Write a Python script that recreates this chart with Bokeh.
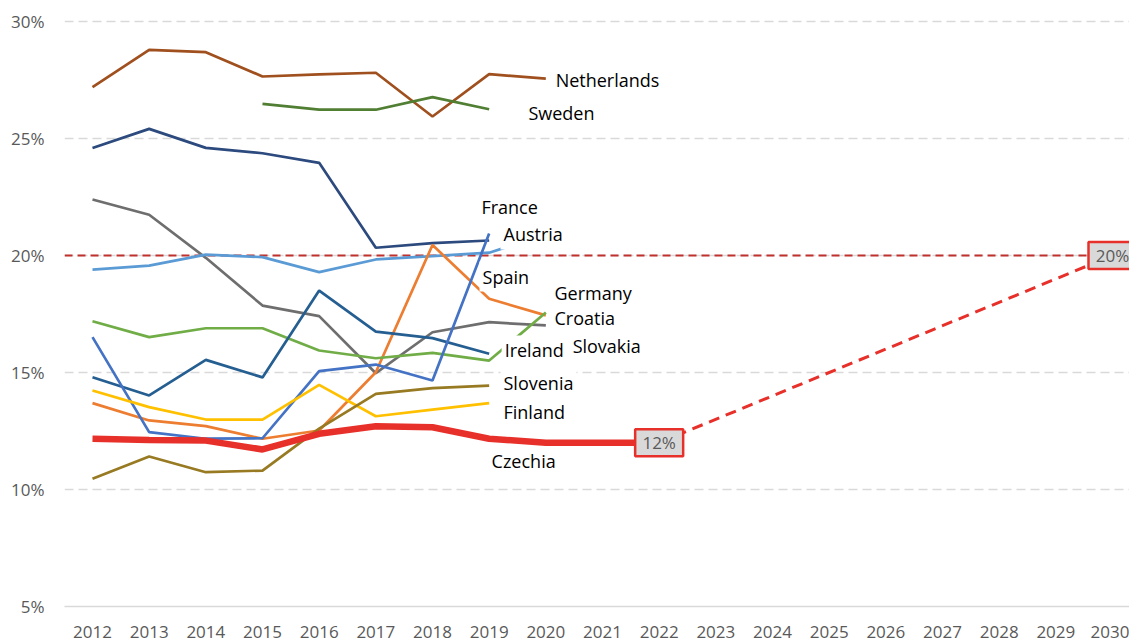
from bokeh.plotting import figure
from bokeh.models import FixedTicker, CustomJSTickFormatter, Span, ColumnDataSource
from bokeh.core.properties import value
from bokeh.embed import file_html
from bokeh.resources import INLINE

years = list(range(2012, 2021))
netherlands = [27.19, 28.79, 28.69, 27.65, 27.74, 27.81, 25.94, 27.75, 27.56]
years_sweden = list(range(2015, 2020))
sweden = [26.48, 26.23, 26.23, 26.77, 26.25]
years_2019 = list(range(2012, 2020))
france = [24.59, 25.41, 24.60, 24.37, 23.96, 20.33, 20.53, 20.64]
croatia = [22.39, 21.74, 19.90, 17.86, 17.41, 14.97, 16.72, 17.15, 17.01]
spain = [19.40, 19.57, 20.04, 19.93, 19.29, 19.83, 19.97, 20.12, 20.90]
austria = [16.51, 12.45, 12.17, 12.19, 15.06, 15.34, 14.66, 20.94]
germany = [13.69, 12.95, 12.71, 12.17, 12.52, 15.01, 20.45, 18.15, 17.44]
slovakia = [17.19, 16.51, 16.89, 16.89, 15.94, 15.61, 15.84, 15.51, 17.56]
ireland = [14.80, 14.02, 15.54, 14.79, 18.50, 16.75, 16.47, 15.80]
finland = [14.23, 13.52, 12.99, 12.99, 14.47, 13.13, 13.41, 13.69]
slovenia = [10.46, 11.41, 10.74, 10.81, 12.60, 14.09, 14.33, 14.44]
years_cz = list(range(2012, 2023))
czechia = [12.17, 12.12, 12.09, 11.71, 12.38, 12.70, 12.66, 12.17, 12.0, 12.0, 12.0]
target_years = [2022, 2030]
target_values = [12, 20]
target_labels = ["12%", "20%"]

label_names = ["Netherlands", "Sweden", "France", "Austria", "Spain", "Germany",
               "Croatia", "Ireland", "Slovakia", "Slovenia", "Finland", "Czechia"]
label_x = [2020.12, 2019.64, 2018.81, 2019.20, 2018.83, 2020.10,
           2020.10, 2019.22, 2020.42, 2019.20, 2019.20, 2018.99]
label_y = [27.48, 26.07, 22.09, 20.90, 19.10, 18.38,
           17.31, 15.94, 16.15, 14.53, 13.33, 11.20]

x_ticks = list(range(2012, 2031))
y_ticks = [5, 10, 15, 20, 25, 30]

FONT = "Open Sans"

p = figure(width=1129, height=643, output_backend="svg", toolbar_location=None,
           x_range=(2011.506, 2030.30), y_range=(5, 30.897),
           min_border_left=64, min_border_right=0, min_border_top=0, min_border_bottom=37)
p.outline_line_color = None
p.background_fill_color = "white"

p.xgrid.grid_line_color = None
p.ygrid.ticker = FixedTicker(ticks=y_ticks[1:])
p.ygrid.grid_line_color = "#d9d9d9"
p.ygrid.grid_line_width = 1.5
p.ygrid.grid_line_dash = "9 5"

p.xaxis.ticker = FixedTicker(ticks=x_ticks)
p.xaxis.axis_line_color = "#d9d9d9"
p.xaxis.axis_line_width = 1.5
p.xaxis.major_tick_line_color = None
p.xaxis.minor_tick_line_color = None
p.xaxis.major_label_standoff = 13
p.xaxis.major_label_text_font = FONT
p.xaxis.major_label_text_font_size = "17px"
p.xaxis.major_label_text_color = "#595959"

p.yaxis.ticker = FixedTicker(ticks=y_ticks)
p.yaxis.formatter = CustomJSTickFormatter(code="return tick + '%';")
p.yaxis.axis_line_color = None
p.yaxis.major_tick_line_color = None
p.yaxis.minor_tick_line_color = None
p.yaxis.major_label_standoff = 14
p.yaxis.major_label_text_font = FONT
p.yaxis.major_label_text_font_size = "17px"
p.yaxis.major_label_text_color = "#595959"

p.add_layout(Span(location=20, dimension="width", line_color="#c0302c",
                  line_width=2, line_dash="8 5", level="underlay"))

W = 2.7
p.line(years, netherlands, line_color="#a0501e", line_width=W)
p.line(years_sweden, sweden, line_color="#507e32", line_width=W)
p.line(years_2019, france, line_color="#2c4a7e", line_width=W)
p.line(years, croatia, line_color="#6e6e6e", line_width=W)
p.line(years, spain, line_color="#5b9bd5", line_width=W)
p.line(years, germany, line_color="#ed7d31", line_width=W)
p.line(years, slovakia, line_color="#70ad47", line_width=W)
p.line(years_2019, ireland, line_color="#255e91", line_width=W)
p.line(years_2019, austria, line_color="#4472c4", line_width=W)
p.line(years_2019, finland, line_color="#ffc000", line_width=W)
p.line(years_2019, slovenia, line_color="#977a22", line_width=W)
p.line(years_cz, czechia, line_color="#e8302a", line_width=6.5)

p.line(target_years, target_values, line_color="#e8302a", line_width=3, line_dash="11 7")

src = ColumnDataSource(dict(x=label_x, y=label_y, t=label_names))
p.text(x="x", y="y", text="t", source=src, text_font=value(FONT), text_font_size="18px",
       text_color="black", text_align="left", text_baseline="middle",
       background_fill_color="white", padding=3)

tsrc = ColumnDataSource(dict(x=target_years, y=target_values, t=target_labels))
p.rect(x="x", y="y", width=48, height=27, width_units="screen", height_units="screen",
       source=tsrc, fill_color="#d9d9d9", line_color="#e8302a", line_width=2.5)
p.text(x="x", y="y", text="t", source=tsrc, text_font=value(FONT), text_font_size="17px",
       text_color="#595959", text_align="center", text_baseline="middle")

open("out.html", "w").write(file_html(p, INLINE))
